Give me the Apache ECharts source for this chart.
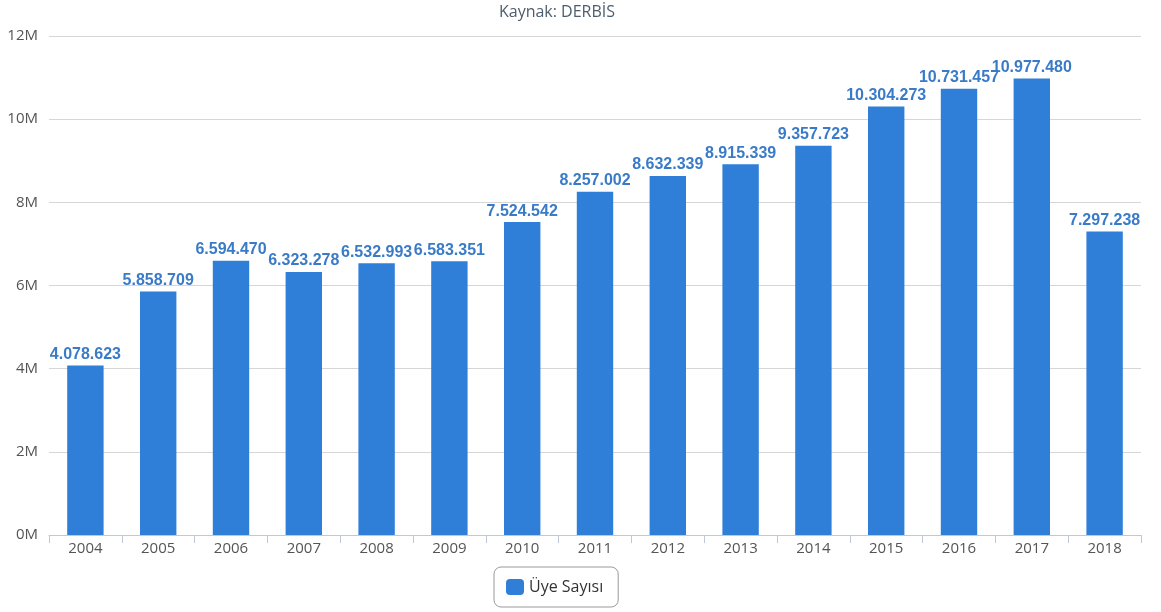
<!DOCTYPE html>
<html><head><meta charset="utf-8">
<script src="https://cdn.jsdelivr.net/npm/echarts@6/dist/echarts.min.js"></script>
<style>html,body{margin:0;padding:0;background:#fff}#c{width:1161px;height:612px}</style>
</head><body><div id="c"></div>
<script>
const categories = ['2004','2005','2006','2007','2008','2009','2010','2011','2012','2013','2014','2015','2016','2017','2018'];
const uyeSayisi = [4078623,5858709,6594470,6323278,6532993,6583351,7524542,8257002,8632339,8915339,9357723,10304273,10731457,10977480,7297238];
const seriesName = 'Üye Sayısı';
const subtitleText = 'Kaynak: DERBİS';

function fmt(v){ return String(v).replace(/\B(?=(\d{3})+(?!\d))/g,'.'); }

const chart = echarts.init(document.getElementById('c'));
chart.setOption({
  animation:false,
  title:{text:subtitleText,left:552,textAlign:'center',top:-1,
    textStyle:{fontFamily:'Open Sans',fontSize:16,fontWeight:'normal',color:'#4d5d6d'}},
  grid:{left:49,right:20,top:36,bottom:77},
  legend:{bottom:5,left:494,itemWidth:18,itemHeight:16,itemGap:8,
    borderColor:'#999',borderWidth:1,borderRadius:7,padding:[12,15,12,12],
    textStyle:{fontFamily:'Open Sans',fontSize:16,color:'#333'},
    icon:'roundRect',data:[seriesName]},
  xAxis:{type:'category',data:categories,
    axisLine:{lineStyle:{color:'#c0c8d8'}},
    axisTick:{show:true,length:8,lineStyle:{color:'#c0c8d8'}},
    axisLabel:{fontFamily:'Open Sans',fontSize:15,color:'#555',margin:6}},
  yAxis:{type:'value',min:0,max:12000000,interval:2000000,
    axisLabel:{fontFamily:'Open Sans',fontSize:15,color:'#555',margin:11,
      formatter:v=>(v/1000000)+'M'},
    splitLine:{lineStyle:{color:'#d6d6d6'}}},
  series:[{name:seriesName,type:'bar',data:uyeSayisi,barCategoryGap:'50%',
    itemStyle:{color:'#2f7ed8'},
    label:{show:true,position:'top',distance:3,formatter:p=>fmt(p.value),
      fontFamily:'Liberation Sans',fontSize:16,fontWeight:'bold',color:'#3a7bc8'}}]
});
</script></body></html>
